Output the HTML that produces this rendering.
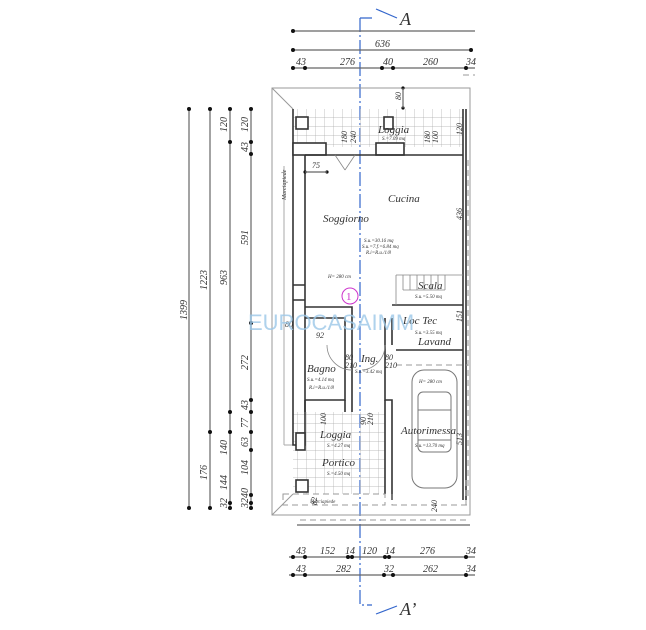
<!DOCTYPE html>
<html><head><meta charset="utf-8"><style>
html,body{margin:0;padding:0;background:#fff;}
svg{display:block;font-family:"Liberation Serif",serif;font-style:italic;}
.d{stroke:#666;stroke-width:1.2;fill:none}
.w{stroke:#333;stroke-width:1.6;fill:none}
.t{stroke:#888;stroke-width:.8;fill:none}
.dash{stroke:#999;stroke-width:1;stroke-dasharray:6 4;fill:none}
text{fill:#333}
</style></head><body>
<svg width="646" height="630" viewBox="0 0 646 630" xmlns="http://www.w3.org/2000/svg">
<defs>
<pattern id="tile" width="9" height="9" patternUnits="userSpaceOnUse"><path d="M0 0H9M0 0V9" stroke="#aaa" stroke-width=".7" fill="none"/></pattern>
</defs>
<!-- section line -->
<path d="M360 18H372M360 18V605H372" stroke="#36c" stroke-width="1.2" fill="none" stroke-dasharray="14 3 2 3"/>
<path d="M376 9L397 18M376 614L397 606" stroke="#36c" stroke-width="1.2"/>
<text x="400" y="25" font-size="18">A</text>
<text x="400" y="615" font-size="18">A’</text>

<!-- top dims -->
<g class="d"><path d="M293 31H475M293 50H471M291 68H475"/></g>
<g fill="#111"><circle cx="293" cy="31" r="2"/><circle cx="293" cy="50" r="2"/><circle cx="471" cy="50" r="2"/>
<circle cx="293" cy="68" r="2"/><circle cx="305" cy="68" r="2"/><circle cx="382" cy="68" r="2"/><circle cx="393" cy="68" r="2"/><circle cx="466" cy="68" r="2"/></g>
<g font-size="10"><text x="375" y="47">636</text><text x="296" y="65">43</text><text x="340" y="65">276</text><text x="383" y="65">40</text><text x="423" y="65">260</text><text x="466" y="65">34</text></g>

<!-- left dims -->
<g class="d"><path d="M189 109V508M210 109V508M230 109V508M251 109V508"/></g>
<g fill="#111">
<circle cx="189" cy="109" r="2"/><circle cx="189" cy="508" r="2"/>
<circle cx="210" cy="109" r="2"/><circle cx="210" cy="432" r="2"/><circle cx="210" cy="508" r="2"/>
<circle cx="230" cy="109" r="2"/><circle cx="230" cy="142" r="2"/><circle cx="230" cy="412" r="2"/><circle cx="230" cy="432" r="2"/><circle cx="230" cy="503" r="2"/><circle cx="230" cy="508" r="2"/>
<circle cx="251" cy="109" r="2"/><circle cx="251" cy="142" r="2"/><circle cx="251" cy="154" r="2"/><circle cx="251" cy="323" r="2"/><circle cx="251" cy="400" r="2"/><circle cx="251" cy="412" r="2"/><circle cx="251" cy="432" r="2"/><circle cx="251" cy="450" r="2"/><circle cx="251" cy="495" r="2"/><circle cx="251" cy="503" r="2"/><circle cx="251" cy="508" r="2"/></g>
<g font-size="10">
<text transform="translate(187 320) rotate(-90)">1399</text>
<text transform="translate(207 290) rotate(-90)">1223</text>
<text transform="translate(207 480) rotate(-90)">176</text>
<text transform="translate(227 285) rotate(-90)">963</text>
<text transform="translate(227 132) rotate(-90)">120</text>
<text transform="translate(227 455) rotate(-90)">140</text>
<text transform="translate(227 490) rotate(-90)">144</text>
<text transform="translate(227 508) rotate(-90)">32</text>
<text transform="translate(248 132) rotate(-90)">120</text>
<text transform="translate(248 152) rotate(-90)">43</text>
<text transform="translate(248 245) rotate(-90)">591</text>
<text transform="translate(248 370) rotate(-90)">272</text>
<text transform="translate(248 410) rotate(-90)">43</text>
<text transform="translate(248 428) rotate(-90)">77</text>
<text transform="translate(248 447) rotate(-90)">63</text>
<text transform="translate(248 475) rotate(-90)">104</text>
<text transform="translate(248 508) rotate(-90)">3240</text>
</g>

<!-- outer thin outline -->
<path d="M272 88H470V515H272Z" stroke="#999" stroke-width="1" fill="none"/>
<path d="M272 88L293 109M272 515L293 494" stroke="#999" stroke-width="1"/>
<path d="M284 166V445M284 445H293" stroke="#aaa"/>
<text transform="translate(286 200) rotate(-90)" font-size="6">Marciapiede</text>

<!-- tiles -->
<rect x="293" y="109" width="170" height="38" fill="url(#tile)"/>
<rect x="293" y="412" width="92" height="82" fill="url(#tile)"/>

<!-- top walls -->
<g class="w">
<path d="M293 109V445H305V155"/>
<rect x="293" y="143" width="33" height="12" fill="#fff"/>
<rect x="376" y="143" width="28" height="12" fill="#fff"/>
<rect x="296" y="117" width="12" height="12" fill="#fff"/>
<rect x="384" y="117" width="9" height="12" fill="#fff"/>
<rect x="296" y="480" width="12" height="12" fill="#fff"/>
<rect x="296" y="433" width="9" height="17" fill="#fff"/>
<path d="M305 155H463M463 109V500M466 109V500"/>
<path d="M305 285H293M305 300H293"/>
<path d="M305 307H352V400M305 318H345V400H305M352 318V345"/>
<path d="M385 318V400H392V500M392 345V318"/>
<path d="M392 305H463M396 350H463"/>
<path d="M305 400V412M345 400V412M352 400V412M385 400V412"/>
<path d="M385 412V494M392 494V500"/>
</g>
<!-- stairs -->
<g class="t"><path d="M396 275H463M396 275V305M403 275V290M410 275V290M417 275V290M424 275V290M431 275V290M438 275V290M445 275V290M403 290H445"/></g>
<!-- door arcs -->
<g class="t"><path d="M327 345A25 25 0 0 0 352 370M385 345A25 25 0 0 1 362 370"/><path d="M335 155L345 170M355 155L345 170"/></g>
<!-- car -->
<g stroke="#777" stroke-width="1" fill="none"><rect x="412" y="370" width="45" height="118" rx="12"/><rect x="418" y="392" width="33" height="60" rx="5"/><path d="M418 410H451M418 440H451"/></g>
<!-- dashed -->
<path class="dash" d="M283 494H385V505H283ZM392 494V505H470M466 480V505M463 75H475"/>
<path class="dash" d="M300 520H470M468 160V500"/>
<path class="dash" d="M396 365H468"/>

<!-- small dims inside -->
<g fill="#111"><circle cx="403" cy="88" r="1.6"/><circle cx="403" cy="108" r="1.6"/><circle cx="305" cy="172" r="1.6"/><circle cx="327" cy="172" r="1.6"/></g>
<path d="M403 88V108M305 172H327" class="d"/>

<!-- text -->
<g font-size="11">
<text x="378" y="133">Loggia</text>
<text x="388" y="202">Cucina</text>
<text x="323" y="222">Soggiorno</text>
<text x="418" y="289">Scala</text>
<text x="403" y="324">Loc Tec</text>
<text x="418" y="345">Lavand</text>
<text x="307" y="372">Bagno</text>
<text x="361" y="362">Ing.</text>
<text x="401" y="434">Autorimessa</text>
<text x="320" y="438">Loggia</text>
<text x="322" y="466">Portico</text>
</g>
<g font-size="5">
<text x="382" y="140">S.=7.09 mq</text>
<text x="364" y="242">S.u.=30.16 mq</text><text x="362" y="248">S.u.=7.f.=6.84 mq</text><text x="366" y="254">R.i=R.u./1/8</text>
<text x="328" y="278">H= 280 cm</text>
<text x="415" y="298">S.u.=5.50 mq</text>
<text x="415" y="334">S.u.=3.55 mq</text>
<text x="307" y="381">S.u.=4.14 mq</text><text x="309" y="389">R.i=R.u./1/8</text>
<text x="355" y="373">S.u.=3.42 mq</text>
<text x="419" y="383">H= 280 cm</text>
<text x="415" y="447">S.u.=13.70 mq</text>
<text x="327" y="447">S.=4.27 mq</text>
<text x="327" y="475">S.=4.50 mq</text>
<text x="310" y="503">Marciapiede</text>
</g>
<g font-size="8">
<text x="312" y="168">75</text><text x="285" y="327">80</text><text x="316" y="338">92</text>
<text x="345" y="360">80</text><text x="345" y="368">210</text><text x="385" y="360">80</text><text x="385" y="368">210</text>
<text transform="translate(401 100) rotate(-90)">80</text>
<text transform="translate(462 135) rotate(-90)">120</text>
<text transform="translate(462 220) rotate(-90)">436</text>
<text transform="translate(462 445) rotate(-90)">513</text>
<text transform="translate(462 322) rotate(-90)">151</text>
<text transform="translate(347 143) rotate(-90)">180</text><text x="0" y="0"/>
<text transform="translate(356 143) rotate(-90)">240</text>
<text transform="translate(430 143) rotate(-90)">180</text>
<text transform="translate(438 143) rotate(-90)">100</text>
<text transform="translate(326 425) rotate(-90)">100</text>
<text transform="translate(366 425) rotate(-90)">90</text>
<text transform="translate(373 425) rotate(-90)">210</text>
<text transform="translate(317 505) rotate(-90)">82</text>
<text transform="translate(437 512) rotate(-90)">240</text>
</g>

<!-- watermark -->
<text x="248" y="330" font-family="Liberation Sans,sans-serif" font-style="normal" font-size="22" fill="#9cc8e8" opacity=".8" style="fill:#9cc8e8">EUROCASAIMM</text>
<circle cx="350" cy="296" r="8" fill="none" stroke="#c3c" stroke-width="1"/>
<text x="346" y="300" font-size="11" font-style="normal" style="fill:#c3c">1</text>

<!-- bottom dims -->
<g class="d"><path d="M289 557H475M289 575H475M297 525H470"/></g>
<g fill="#111"><circle cx="293" cy="557" r="2"/><circle cx="305" cy="557" r="2"/><circle cx="348" cy="557" r="2"/><circle cx="352" cy="557" r="2"/><circle cx="385" cy="557" r="2"/><circle cx="389" cy="557" r="2"/><circle cx="466" cy="557" r="2"/>
<circle cx="293" cy="575" r="2"/><circle cx="305" cy="575" r="2"/><circle cx="384" cy="575" r="2"/><circle cx="393" cy="575" r="2"/><circle cx="466" cy="575" r="2"/></g>
<g font-size="10"><text x="296" y="554">43</text><text x="320" y="554">152</text><text x="345" y="554">14</text><text x="362" y="554">120</text><text x="385" y="554">14</text><text x="420" y="554">276</text><text x="466" y="554">34</text>
<text x="296" y="572">43</text><text x="336" y="572">282</text><text x="384" y="572">32</text><text x="423" y="572">262</text><text x="466" y="572">34</text></g>
</svg>
</body></html>
